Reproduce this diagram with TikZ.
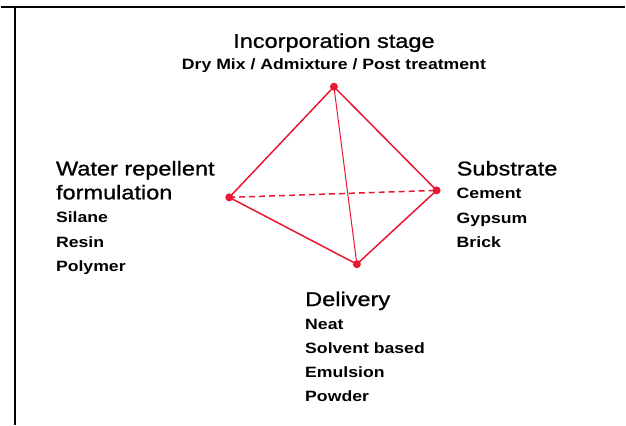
\documentclass[tikz,border=0pt]{standalone}
\usepackage{fontspec}
\setmainfont[FakeStretch=1.18]{Liberation Sans}
\newfontfamily\headfont[FakeStretch=1.18,FakeBold=0.9]{Liberation Sans}
\definecolor{edgered}{RGB}{232,24,48}

\begin{document}
\begin{tikzpicture}[
  x=1pt,
  y=-1pt,
  line cap=round,
  line join=round,
  frame/.style={
    draw=black,
    line width=2pt,
    line cap=butt
  },
  edge/.style={
    draw=edgered,
    line width=1.5pt
  },
  inner edge/.style={
    draw=edgered,
    line width=1pt
  },
  hidden edge/.style={
    draw=edgered,
    line width=1.5pt,
    line cap=butt,
    dash pattern=on 6pt off 4pt
  },
  vertex/.style={
    fill=edgered
  },
  heading/.style={
    inner sep=0pt,
    align=left,
    font=\headfont\fontsize{20}{24}\selectfont
  },
  items/.style={
    inner sep=0pt,
    align=left,
    font=\fontsize{15}{24.2}\selectfont\bfseries
  }
]

  % Rahmen
  \draw[frame]
    (0,7.5) -- (626,7.5);
  \draw[frame]
    (14,6.5) -- (14,426);

  % Ecken des Tetraeders
  \coordinate (top) at (334,87);
  \coordinate (left) at (229,198);
  \coordinate (right) at (437,191);
  \coordinate (bottom) at (357,265);

  % verdeckte Kante
  \draw[hidden edge]
    (left) -- (right);

  % innere Kante
  \draw[inner edge]
    (top) -- (bottom);

  % Aussenkanten
  \draw[edge]
    (top) -- (left) -- (bottom) -- (right) -- cycle;

  % Punkte
  \foreach \v in {top,left,right,bottom}
    \fill[vertex] (\v) circle[radius=4pt];

  % Incorporation stage (base = letzte Zeile)
  \node[heading,anchor=base] (stage) at (334,48)
    {Incorporation stage};
  \node[items,anchor=base] (stagelist) at (334,70)
    {Dry Mix / Admixture / Post treatment};

  % Water repellent formulation
  \node[heading,anchor=base west] (formula) at (55,200)
    {Water repellent\\formulation};
  \node[items,anchor=base west] (formulalist) at (55,272)
    {Silane\\Resin\\Polymer};

  % Substrate
  \node[heading,anchor=base west] (substrate) at (457,176)
    {Substrate};
  \node[items,anchor=base west] (substratelist) at (457,248)
    {Cement\\Gypsum\\Brick};

  % Delivery
  \node[heading,anchor=base west] (delivery) at (305,307)
    {Delivery};
  \node[items,anchor=base west] (deliverylist) at (305,403)
    {Neat\\Solvent based\\Emulsion\\Powder};

  \path[use as bounding box]
    (0,0) rectangle (626,426);

\end{tikzpicture}
\end{document}
